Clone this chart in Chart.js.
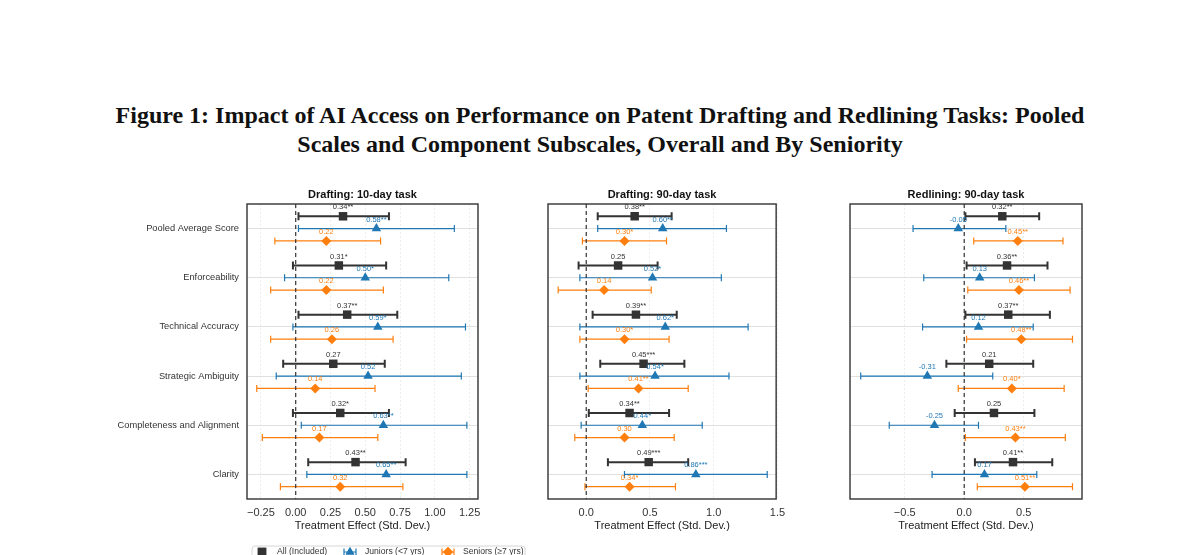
<!DOCTYPE html>
<html>
<head>
<meta charset="utf-8">
<script src="https://cdn.jsdelivr.net/npm/chart.js@4.4.1/dist/chart.umd.min.js"></script>
<style>
  body { margin: 0; background: #fff; width: 1200px; height: 555px; overflow: hidden; position: relative; }
  #title { position: absolute; top: 101px; left: 0; width: 1200px; text-align: center;
           font: bold 24px "Liberation Serif", serif; line-height: 29px; color: #111; }
  .panel { position: absolute; top: 180px; height: 375px; }
</style>
</head>
<body>
<div id="title">Figure 1: Impact of AI Access on Performance on Patent Drafting and Redlining Tasks: Pooled<br>Scales and Component Subscales, Overall and By Seniority</div>
<div class="panel" style="left:0;width:530px"><canvas id="chart1" width="530" height="375"></canvas></div>
<div class="panel" style="left:530px;width:262px"><canvas id="chart2" width="262" height="375"></canvas></div>
<div class="panel" style="left:832px;width:262px"><canvas id="chart3" width="262" height="375"></canvas></div>
<script>
const categories = ['Pooled Average Score', 'Enforceability', 'Technical Accuracy',
                    'Strategic Ambiguity', 'Completeness and Alignment', 'Clarity'];
const panelTitles = ['Drafting: 10-day task', 'Drafting: 90-day task', 'Redlining: 90-day task'];
const seriesNames = ['All (Included)', 'Juniors (<7 yrs)', 'Seniors (\u22657 yrs)'];

// Drafting: 10-day task
const d10AllEst = [0.34, 0.31, 0.37, 0.27, 0.32, 0.43];
const d10AllLo = [0.02, -0.02, 0.02, -0.09, -0.02, 0.09];
const d10AllHi = [0.67, 0.65, 0.73, 0.64, 0.67, 0.79];
const d10AllStars = ['**', '*', '**', '', '*', '**'];
const d10JunEst = [0.58, 0.50, 0.59, 0.52, 0.63, 0.65];
const d10JunLo = [0.02, -0.08, -0.02, -0.14, 0.04, 0.08];
const d10JunHi = [1.14, 1.10, 1.22, 1.19, 1.23, 1.23];
const d10JunStars = ['**', '*', '*', '', '**', '**'];
const d10SenEst = [0.22, 0.22, 0.26, 0.14, 0.17, 0.32];
const d10SenLo = [-0.15, -0.18, -0.18, -0.28, -0.24, -0.11];
const d10SenHi = [0.61, 0.63, 0.70, 0.57, 0.59, 0.77];
const d10SenStars = ['', '', '', '', '', ''];

// Drafting: 90-day task
const d90AllEst = [0.38, 0.25, 0.39, 0.45, 0.34, 0.49];
const d90AllLo = [0.09, -0.06, 0.05, 0.11, 0.02, 0.17];
const d90AllHi = [0.67, 0.56, 0.71, 0.77, 0.65, 0.80];
const d90AllStars = ['**', '', '**', '***', '**', '***'];
const d90JunEst = [0.60, 0.52, 0.62, 0.54, 0.44, 0.86];
const d90JunLo = [0.09, -0.05, -0.05, -0.05, -0.04, 0.30];
const d90JunHi = [1.10, 1.06, 1.27, 1.12, 0.91, 1.42];
const d90JunStars = ['**', '*', '*', '*', '*', '***'];
const d90SenEst = [0.30, 0.14, 0.30, 0.41, 0.30, 0.34];
const d90SenLo = [-0.03, -0.22, -0.05, 0.015, -0.09, -0.01];
const d90SenHi = [0.63, 0.51, 0.65, 0.80, 0.69, 0.70];
const d90SenStars = ['*', '', '*', '**', '', '*'];

// Redlining: 90-day task
const redAllEst = [0.32, 0.36, 0.37, 0.21, 0.25, 0.41];
const redAllLo = [0.01, 0.02, 0.01, -0.15, -0.08, 0.09];
const redAllHi = [0.63, 0.70, 0.72, 0.58, 0.59, 0.74];
const redAllStars = ['**', '**', '**', '', '', '**'];
const redJunEst = [-0.05, 0.13, 0.12, -0.31, -0.25, 0.17];
const redJunLo = [-0.43, -0.34, -0.35, -0.87, -0.63, -0.27];
const redJunHi = [0.35, 0.59, 0.58, 0.24, 0.12, 0.61];
const redJunStars = ['', '', '', '', '', ''];
const redSenEst = [0.45, 0.46, 0.48, 0.40, 0.43, 0.51];
const redSenLo = [0.08, 0.03, 0.02, -0.05, 0.01, 0.11];
const redSenHi = [0.83, 0.89, 0.91, 0.84, 0.85, 0.91];
const redSenStars = ['**', '**', '**', '*', '**', '**'];

// x axes
const d10Range = [-0.35, 1.31];
const d10Ticks = [-0.25, 0, 0.25, 0.5, 0.75, 1.0, 1.25];
const d10TickLabels = ['\u22120.25', '0.00', '0.25', '0.50', '0.75', '1.00', '1.25'];
const d90Range = [-0.30, 1.49];
const d90Ticks = [0, 0.5, 1.0, 1.5];
const d90TickLabels = ['0.0', '0.5', '1.0', '1.5'];
const redRange = [-0.96, 0.99];
const redTicks = [-0.5, 0, 0.5];
const redTickLabels = ['\u22120.5', '0.0', '0.5'];

const dark = '#333333';
const blue = '#1f77b4';
const orange = '#ff7f0e';
const sans = '"Liberation Sans", Arial, sans-serif';

function seriesFor(all, jun, sen) {
  return [
    { name: seriesNames[0], color: dark, off: -0.25, style: 'rect', r: 6, lw: 2, cap: 4, ...all },
    { name: seriesNames[1], color: blue, off: 0, style: 'triangle', r: 5.5, lw: 1.2, cap: 3.5, ...jun },
    { name: seriesNames[2], color: orange, off: 0.25, style: 'rectRot', r: 5, lw: 1.2, cap: 3.5, ...sen }
  ];
}

function drawIcon(ctx, style, color, x, y) {
  ctx.strokeStyle = color; ctx.fillStyle = color; ctx.lineWidth = 1.2;
  ctx.beginPath();
  ctx.moveTo(x - 6, y); ctx.lineTo(x + 6, y);
  ctx.moveTo(x - 6, y - 3.5); ctx.lineTo(x - 6, y + 3.5);
  ctx.moveTo(x + 6, y - 3.5); ctx.lineTo(x + 6, y + 3.5);
  ctx.stroke();
  Chart.helpers.drawPoint(ctx, { pointStyle: style, radius: 5, borderWidth: 0 }, x, y);
  ctx.fill();
}

function makeForest(title, series, withLegend) {
  return {
    id: 'forest',
    beforeDatasetsDraw(chart) {
      const { ctx, chartArea: a, scales: { x, y } } = chart;
      ctx.save();
      series.forEach(s => {
        ctx.strokeStyle = s.color;
        ctx.lineWidth = s.lw;
        s.lo.forEach((lo, i) => {
          const py = y.getPixelForValue(i + s.off);
          const p1 = x.getPixelForValue(lo);
          const p2 = x.getPixelForValue(s.hi[i]);
          ctx.beginPath();
          ctx.moveTo(p1, py); ctx.lineTo(p2, py);
          ctx.moveTo(p1, py - s.cap); ctx.lineTo(p1, py + s.cap);
          ctx.moveTo(p2, py - s.cap); ctx.lineTo(p2, py + s.cap);
          ctx.stroke();
        });
      });
      // zero reference line
      const x0 = x.getPixelForValue(0);
      ctx.setLineDash([4, 3]);
      ctx.strokeStyle = dark;
      ctx.lineWidth = 1.2;
      ctx.beginPath(); ctx.moveTo(x0, a.top); ctx.lineTo(x0, a.bottom); ctx.stroke();
      ctx.restore();
    },
    afterDatasetsDraw(chart) {
      const { ctx, chartArea: a, scales: { x, y } } = chart;
      ctx.save();
      ctx.font = '7.5px ' + sans;
      ctx.textAlign = 'center';
      ctx.textBaseline = 'middle';
      series.forEach(s => {
        ctx.fillStyle = s.color;
        s.est.forEach((v, i) => {
          ctx.fillText(v.toFixed(2) + s.stars[i], x.getPixelForValue(v), y.getPixelForValue(i + s.off) - 9);
        });
      });
      ctx.strokeStyle = dark;
      ctx.lineWidth = 1.4;
      ctx.strokeRect(a.left, a.top, a.right - a.left, a.bottom - a.top);
      // panel title, centred over the plot area
      ctx.fillStyle = '#111';
      ctx.font = 'bold 11px ' + sans;
      ctx.fillText(title, (a.left + a.right) / 2, a.top - 9);
      ctx.restore();
    },
    afterDraw(chart) {
      if (!withLegend) return;
      const ctx = chart.ctx;
      ctx.save();
      ctx.strokeStyle = '#cccccc';
      ctx.lineWidth = 0.8;
      ctx.beginPath();
      ctx.roundRect(252, 366, 273, 24, 3);
      ctx.stroke();
      const iconX = [262, 350, 448];
      const textX = [277, 365, 463];
      ctx.font = '8.6px ' + sans;
      ctx.textBaseline = 'middle';
      series.forEach((s, k) => {
        if (k === 0) {
          ctx.fillStyle = s.color;
          Chart.helpers.drawPoint(ctx, { pointStyle: 'rect', radius: 6, borderWidth: 0 }, iconX[k], 372);
          ctx.fill();
        } else {
          drawIcon(ctx, s.style, s.color, iconX[k], 372);
        }
        ctx.fillStyle = '#333';
        ctx.fillText(s.name, textX[k], 372);
      });
      ctx.restore();
    }
  };
}

function makePanel(id, title, series, range, ticks, tickLabels, showY, withLegend, padRight) {
  const yWidth = showY ? 247 : 18;
  new Chart(document.getElementById(id), {
    type: 'scatter',
    data: {
      datasets: series.map(s => ({
        label: s.name,
        data: s.est.map((v, i) => ({ x: v, y: i + s.off })),
        pointStyle: s.style,
        pointRadius: s.r,
        backgroundColor: s.color,
        borderColor: s.color,
        borderWidth: 0
      }))
    },
    options: {
      responsive: false,
      animation: false,
      layout: { padding: { left: 0, right: padRight, top: 24, bottom: 15 } },
      plugins: {
        legend: { display: false },
        tooltip: { enabled: false },
        title: { display: false }
      },
      scales: {
        x: {
          type: 'linear', min: range[0], max: range[1],
          afterBuildTicks: s => { s.ticks = ticks.map(v => ({ value: v })); },
          afterFit: s => { s.height = 41; },
          ticks: {
            callback: (v, i) => tickLabels[i],
            padding: 7, maxRotation: 0, autoSkip: false,
            color: '#333', font: { family: sans, size: 11 }
          },
          grid: { color: 'rgba(0,0,0,0.09)', lineWidth: 0.8, drawTicks: false },
          border: { display: false, dash: [2, 2] },
          title: {
            display: true, text: 'Treatment Effect (Std. Dev.)', color: '#222',
            font: { family: sans, size: 11 }, padding: { top: 0, bottom: 7.4 }
          }
        },
        y: {
          type: 'linear', min: -0.5, max: 5.5, reverse: true,
          afterBuildTicks: s => { s.ticks = categories.map((c, i) => ({ value: i })); },
          afterFit: s => { s.width = yWidth; },
          ticks: {
            display: showY, autoSkip: false, padding: 8,
            callback: v => categories[v],
            color: '#333', font: { family: sans, size: 9.3 }
          },
          grid: { color: '#dddddd', lineWidth: 0.9, drawTicks: false },
          border: { display: false }
        }
      }
    },
    plugins: [makeForest(title, series, withLegend)]
  });
}

makePanel('chart1', panelTitles[0],
  seriesFor({ est: d10AllEst, lo: d10AllLo, hi: d10AllHi, stars: d10AllStars },
            { est: d10JunEst, lo: d10JunLo, hi: d10JunHi, stars: d10JunStars },
            { est: d10SenEst, lo: d10SenLo, hi: d10SenHi, stars: d10SenStars }),
  d10Range, d10Ticks, d10TickLabels, true, true, 52);

makePanel('chart2', panelTitles[1],
  seriesFor({ est: d90AllEst, lo: d90AllLo, hi: d90AllHi, stars: d90AllStars },
            { est: d90JunEst, lo: d90JunLo, hi: d90JunHi, stars: d90JunStars },
            { est: d90SenEst, lo: d90SenLo, hi: d90SenHi, stars: d90SenStars }),
  d90Range, d90Ticks, d90TickLabels, false, false, 12);

makePanel('chart3', panelTitles[2],
  seriesFor({ est: redAllEst, lo: redAllLo, hi: redAllHi, stars: redAllStars },
            { est: redJunEst, lo: redJunLo, hi: redJunHi, stars: redJunStars },
            { est: redSenEst, lo: redSenLo, hi: redSenHi, stars: redSenStars }),
  redRange, redTicks, redTickLabels, false, false, 12);
</script>
</body>
</html>
